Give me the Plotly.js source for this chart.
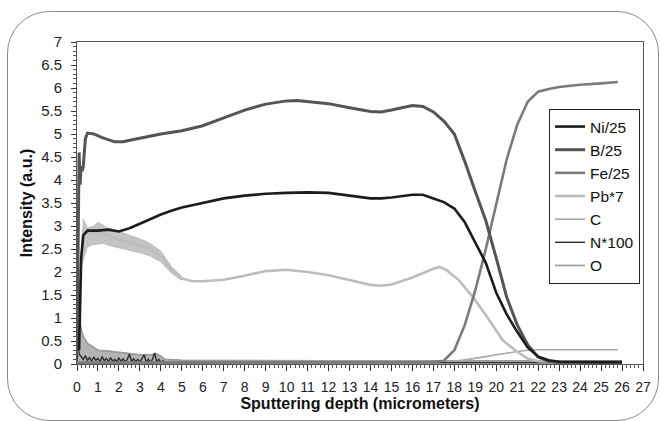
<!DOCTYPE html>
<html>
<head>
<meta charset="utf-8">
<script src="https://cdn.plot.ly/plotly-3.0.1.min.js"></script>
<style>
  html, body { margin: 0; padding: 0; background: #fff; }
  #wrap { position: relative; width: 660px; height: 421px; overflow: hidden; }
  #chart { position: absolute; left: 0; top: 0; width: 660px; height: 421px; }
  #frame { position: absolute; left: 7px; top: 11px; width: 650px; height: 408px;
           border: 1.3px solid #8a8a8a; border-radius: 42px; pointer-events: none; }
</style>
</head>
<body>
<div id="wrap"><div id="chart"></div><div id="frame"></div></div>
<script>
// ---- data ----
const seriesNames = ["Ni/25", "B/25", "Fe/25", "Pb*7", "C", "N*100", "O"];
const xTickVals = [0,1,2,3,4,5,6,7,8,9,10,11,12,13,14,15,16,17,18,19,20,21,22,23,24,25,26,27];
const yTickVals = [0,0.5,1,1.5,2,2.5,3,3.5,4,4.5,5,5.5,6,6.5,7];

const niX = [0.1,0.2,0.3,0.5,1,1.5,2,2.5,3,3.5,4,4.5,5,5.5,6,7,8,9,10,11,12,13,14,14.5,15,16,16.5,17,17.5,18,18.5,19,19.5,20,20.5,21,21.5,22,22.5,23,24,25,26];
const niY = [0.3,2.3,2.8,2.9,2.9,2.92,2.88,2.95,3.05,3.15,3.25,3.33,3.4,3.45,3.5,3.6,3.66,3.7,3.72,3.73,3.72,3.66,3.6,3.6,3.62,3.68,3.68,3.6,3.52,3.38,3.08,2.64,2.2,1.55,1.08,0.7,0.36,0.16,0.08,0.05,0.04,0.04,0.04];

const bX = [0,0.05,0.1,0.15,0.2,0.25,0.3,0.4,0.5,0.8,1.2,1.8,2.2,2.7,3.2,4,5,6,7,8,9,10,10.5,11,12,13,14,14.5,15,16,16.5,17,17.5,18,18.5,19,19.5,20,20.5,21,21.5,22,22.5,23,24,25,26];
const bY = [0.2,3.0,4.6,3.9,4.3,4.2,4.3,4.9,5.02,5.0,4.92,4.83,4.83,4.88,4.93,5.0,5.07,5.18,5.35,5.52,5.65,5.72,5.73,5.71,5.66,5.57,5.49,5.48,5.52,5.62,5.6,5.48,5.28,5.0,4.4,3.75,3.12,2.3,1.45,0.85,0.42,0.15,0.06,0.04,0.04,0.04,0.04];

const feX = [0,0.5,2,4,6,8,10,12,14,16,17,17.5,18,18.5,19,19.5,20,20.5,21,21.5,22,22.5,23,24,25,25.8];
const feY = [0.03,0.03,0.03,0.03,0.03,0.03,0.03,0.03,0.03,0.04,0.04,0.07,0.3,0.85,1.6,2.5,3.45,4.45,5.2,5.7,5.92,5.98,6.02,6.07,6.1,6.13];

const pbX = [0,0.1,0.2,0.3,0.5,1,1.5,2,2.5,3,3.5,4,4.5,5,5.5,6,7,8,9,10,11,12,13,14,14.5,15,16,16.5,17,17.3,17.6,18.2,18.9,19.6,20.3,21,21.5,22,23,26];
const pbY = [0.2,1.5,2.2,2.9,2.85,2.85,2.8,2.7,2.65,2.58,2.5,2.35,2.05,1.86,1.8,1.8,1.83,1.92,2.02,2.05,2.0,1.93,1.82,1.72,1.7,1.73,1.88,1.98,2.07,2.11,2.05,1.83,1.45,1.0,0.52,0.26,0.12,0.06,0.05,0.05];
const pbBandX = [0.25,0.3,0.5,0.8,1,1.3,1.5,2,2.5,3,3.5,4,4.5,5];
const pbBandHigh = [2.3,3.15,2.95,3.0,3.08,3.0,2.95,2.88,2.8,2.72,2.62,2.45,2.12,1.9];
const pbBandLow = [2.2,2.3,2.55,2.6,2.6,2.62,2.58,2.52,2.47,2.42,2.35,2.22,1.98,1.82];

const cX = [0,4,10,17,18,18.5,19,19.5,20,20.5,21,21.5,22,23,24,25,25.8];
const cY = [0.05,0.05,0.05,0.05,0.06,0.09,0.12,0.16,0.2,0.24,0.27,0.3,0.31,0.31,0.31,0.31,0.31];

const nX = [0,0.05,0.1,0.2,0.3,0.4,0.5,0.6,0.7,0.8,0.9,1.0,1.1,1.2,1.3,1.4,1.5,1.6,1.7,1.8,1.9,2.0,2.1,2.2,2.3,2.4,2.5,2.6,2.7,2.8,2.9,3.0,3.1,3.2,3.3,3.4,3.5,3.6,3.7,3.8,3.9,4.0,4.1,4.2,5,8,12,16,18,20,22,26];
const nY = [0.05,0.45,0.22,0.16,0.1,0.18,0.08,0.14,0.06,0.15,0.08,0.12,0.05,0.16,0.07,0.12,0.05,0.14,0.06,0.1,0.05,0.13,0.06,0.11,0.05,0.1,0.22,0.06,0.11,0.05,0.1,0.04,0.11,0.2,0.05,0.1,0.04,0.1,0.24,0.05,0.1,0.04,0.07,0.03,0.03,0.03,0.03,0.04,0.03,0.03,0.03,0.03];

const oX = [0,0.05,0.1,0.15,0.2,0.3,0.5,0.8,1,1.5,2,2.5,3,3.5,3.8,4,4.2,5,8,12,16,20,22,26];
const oY = [0.1,1.0,0.95,0.9,0.75,0.6,0.45,0.35,0.3,0.28,0.25,0.22,0.2,0.2,0.22,0.17,0.1,0.08,0.07,0.07,0.07,0.07,0.07,0.07];

// ---- styles ----
const colors = {"Ni/25":"#1c1c1c","B/25":"#555555","Fe/25":"#7b7b7b","Pb*7":"#bdbdbd","C":"#a9a9a9","N*100":"#2c2c2c","O":"#9a9a9a"};
const widths = {"Ni/25":2.6,"B/25":3,"Fe/25":2.6,"Pb*7":2.6,"C":1.6,"N*100":1.4,"O":1.6};

function line(name, x, y, rank, extra) {
  return Object.assign({type:"scatter", mode:"lines", name:name, x:x, y:y, legendrank:rank,
    line:{color:colors[name], width:widths[name]}}, extra || {});
}

const bandPolyX = pbBandX.concat(pbBandX.slice().reverse());
const bandPolyY = pbBandHigh.concat(pbBandLow.slice().reverse());

const data = [
  {type:"scatter", mode:"lines", x:bandPolyX, y:bandPolyY, fill:"toself", fillcolor:"#c4c4c4",
   line:{color:"#bdbdbd", width:1}, showlegend:false, hoverinfo:"skip"},
  {type:"scatter", mode:"lines", x:oX, y:oY, fill:"tozeroy", fillcolor:"#b4b4b4",
   line:{color:"#a4a4a4", width:1}, showlegend:false, hoverinfo:"skip"},
  line("O", oX, oY, 7),
  line("C", cX, cY, 5),
  line("N*100", nX, nY, 6),
  line("Pb*7", pbX, pbY, 4),
  line("Fe/25", feX, feY, 3),
  line("B/25", bX, bY, 2),
  line("Ni/25", niX, niY, 1)
];

const fontFam = "Liberation Sans, Arial, sans-serif";
const layout = {
  width:660, height:421,
  margin:{l:77, r:17, t:42, b:57},
  paper_bgcolor:"#ffffff", plot_bgcolor:"#ffffff",
  showlegend:true,
  font:{family:fontFam, color:"#1a1a1a"},
  xaxis:{
    range:[0,27], tickvals:xTickVals, ticktext:xTickVals.map(String),
    ticks:"outside", ticklen:6, tickcolor:"#333", tickwidth:1,
    minor:{dtick:0.2, ticks:"outside", ticklen:3, tickcolor:"#555"},
    showline:true, linecolor:"#555", linewidth:1, mirror:true,
    showgrid:false, zeroline:false,
    tickfont:{family:fontFam, size:14, color:"#222"},
    ticklabelstandoff:4,
    title:{text:"<b>Sputtering depth (micrometers)</b>", font:{family:fontFam, size:16, color:"#111"}, standoff:0}
  },
  yaxis:{
    range:[0,7], tickvals:yTickVals, ticktext:yTickVals.map(String),
    ticks:"outside", ticklen:5, tickcolor:"#333", tickwidth:1,
    minor:{dtick:0.1, ticks:"outside", ticklen:3, tickcolor:"#555"},
    showline:true, linecolor:"#555", linewidth:1, mirror:true,
    showgrid:false, zeroline:false,
    tickfont:{family:fontFam, size:15, color:"#222"},
    ticklabelstandoff:6,
    title:{text:"<b>Intensity (a.u.)</b>", font:{family:fontFam, size:16, color:"#111"}, standoff:4}
  },
  legend:{x:0.834, y:0.792, xanchor:"left", yanchor:"top",
    bgcolor:"#ffffff", bordercolor:"#222", borderwidth:1,
    font:{family:fontFam, size:15.5, color:"#111"}, itemwidth:30, tracegroupgap:0}
};

Plotly.newPlot("chart", data, layout, {staticPlot:true, displayModeBar:false});
</script>
</body>
</html>
